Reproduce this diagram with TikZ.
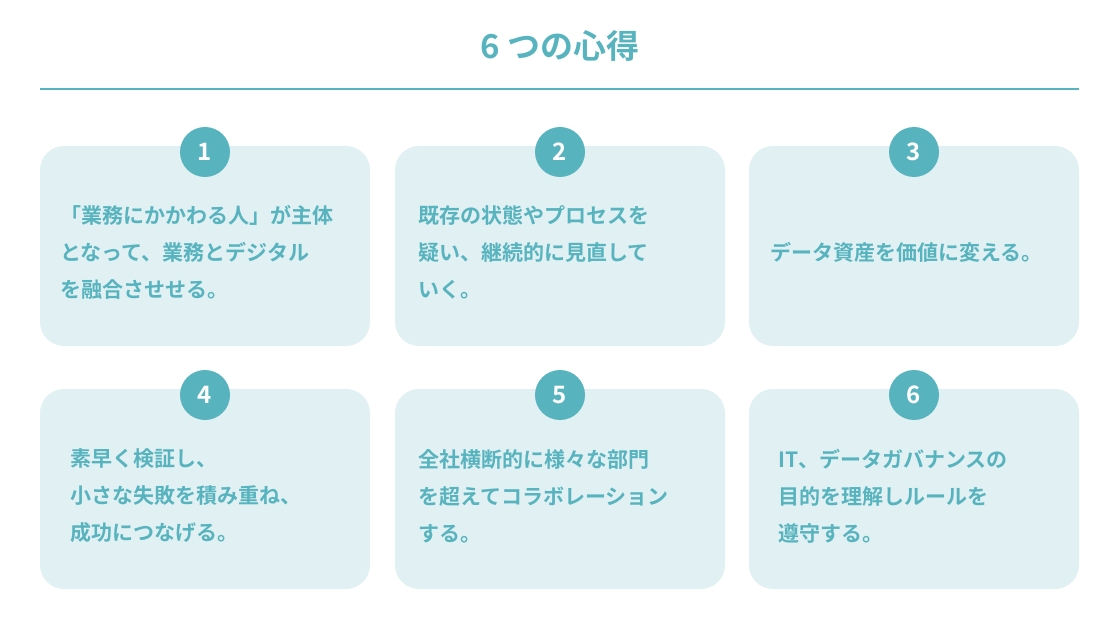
\documentclass[tikz,border=0pt]{standalone}
\usepackage{fontspec}
\newfontfamily\jp{Noto Sans CJK JP Bold}
\definecolor{teal1}{HTML}{57B4BF}
\definecolor{boxbg}{HTML}{E1F0F2}
\begin{document}
\begin{tikzpicture}[x=1pt,y=-1pt,
  card/.style={fill=boxbg,rounded corners=24pt},
  badge/.style={circle,fill=teal1,minimum size=50pt,inner sep=0pt,text=white,font=\jp\fontsize{24}{24}\selectfont},
  txt/.style={anchor=west,align=left,text=teal1,inner sep=0pt,font=\jp\fontsize{21}{37}\selectfont}]
\useasboundingbox (0,0) rectangle (1120,631);
\node[text=teal1,font=\jp\fontsize{33}{33}\selectfont] (title) at (560,46) {6 つの心得};
\coordinate (l1) at (40,89); \coordinate (l2) at (1079,89);
\draw[teal1,line width=1.5pt] (l1) -- (l2);
\foreach \i/\x/\y in {1/40/146,2/395/146,3/749/146,4/40/389,5/395/389,6/749/389}{
  \path[card] (\x,\y) rectangle ++(330,200);
  \node[badge] (b\i) at (\x+165,\y+6) {\i};
}
\node[txt] (t1) at (60,252) {「業務にかかわる人」が主体\\となって、業務とデジタル\\を融合させせる。};
\node[txt] (t2) at (418,252) {既存の状態やプロセスを\\疑い、継続的に見直して\\いく。};
\node[txt] (t3) at (770,252) {データ資産を価値に変える。};
\node[txt] (t4) at (70,496) {素早く検証し、\\小さな失敗を積み重ね、\\成功につなげる。};
\node[txt] (t5) at (418,496) {全社横断的に様々な部門\\を超えてコラボレーション\\する。};
\node[txt] (t6) at (778,496) {IT、データガバナンスの\\目的を理解しルールを\\遵守する。};
\end{tikzpicture}
\end{document}
